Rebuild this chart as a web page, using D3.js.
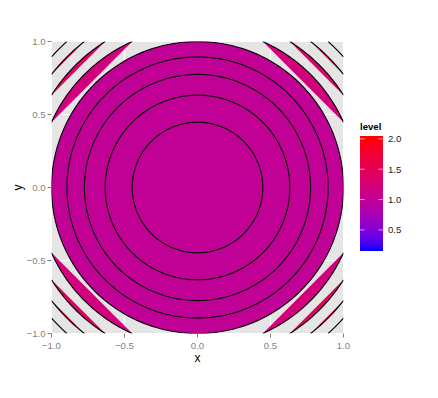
<!DOCTYPE html>
<html><head><meta charset="utf-8">
<script src="https://cdn.jsdelivr.net/npm/d3@7"></script>
<style>body{margin:0;background:#fff}svg{display:block;font-family:"Liberation Sans",Arial,sans-serif}</style>
</head><body><svg id="c" width="438" height="398"></svg>
<script>
// contour levels of z = x^2 + y^2
const levels = [0.2, 0.4, 0.6, 0.8, 1.0, 1.2, 1.4, 1.6, 1.8];
const xTicks = [-1, -0.5, 0, 0.5, 1];
const yTicks = [-1, -0.5, 0, 0.5, 1];
const minorTicks = [-0.75, -0.25, 0.25, 0.75];
const legendTicks = [0.5, 1.0, 1.5, 2.0];
const levelLimits = [0.2, 2.0];

// Lab (D65) interpolation, as in R's colour ramps
function toLab(hex) {
  const c = d3.rgb(hex);
  const lin = v => { v /= 255; return v <= 0.04045 ? v / 12.92 : Math.pow((v + 0.055) / 1.055, 2.4); };
  const r = lin(c.r), g = lin(c.g), b = lin(c.b);
  const X = (0.4124 * r + 0.3576 * g + 0.1805 * b) / 0.95047;
  const Y = (0.2126 * r + 0.7152 * g + 0.0722 * b);
  const Z = (0.0193 * r + 0.1192 * g + 0.9505 * b) / 1.08883;
  const f = t => t > 0.008856 ? Math.cbrt(t) : 7.787 * t + 16 / 116;
  const fx = f(X), fy = f(Y), fz = f(Z);
  return [116 * fy - 16, 500 * (fx - fy), 200 * (fy - fz)];
}
function fromLab([L, a, bb]) {
  const fy = (L + 16) / 116, fx = fy + a / 500, fz = fy - bb / 200;
  const inv = t => t * t * t > 0.008856 ? t * t * t : (t - 16 / 116) / 7.787;
  const X = inv(fx) * 0.95047, Y = inv(fy), Z = inv(fz) * 1.08883;
  let r = 3.2406 * X - 1.5372 * Y - 0.4986 * Z;
  let g = -0.9689 * X + 1.8758 * Y + 0.0415 * Z;
  let b = 0.0557 * X - 0.2040 * Y + 1.0570 * Z;
  const gam = v => { v = Math.max(0, Math.min(1, v)); return 255 * (v <= 0.0031308 ? 12.92 * v : 1.055 * Math.pow(v, 1 / 2.4) - 0.055); };
  return d3.rgb(gam(r), gam(g), gam(b)).formatHex();
}
const labLo = toLab("#0000FF"), labHi = toLab("#FF0000");
const tScale = d3.scaleLinear().domain(levelLimits).range([0, 1]).clamp(true);
const col = v => { const t = tScale(v); return fromLab(labLo.map((d, i) => d + (labHi[i] - d) * t)); };

const svg = d3.select("#c");
const P = {l: 51.5, r: 343.5, t: 41.5, b: 333.5};
const x = d3.scaleLinear().domain([-1, 1]).range([P.l, P.r]);
const y = d3.scaleLinear().domain([-1, 1]).range([P.b, P.t]);

svg.append("rect").attr("x", P.l).attr("y", P.t).attr("width", P.r - P.l).attr("height", P.b - P.t).attr("fill", "#E5E5E5");
const g = svg.append("g");
minorTicks.forEach(v => {
  g.append("line").attr("x1", x(v)).attr("x2", x(v)).attr("y1", P.t).attr("y2", P.b).attr("stroke", "#F2F2F2").attr("stroke-width", 0.5);
  g.append("line").attr("y1", y(v)).attr("y2", y(v)).attr("x1", P.l).attr("x2", P.r).attr("stroke", "#F2F2F2").attr("stroke-width", 0.5);
});
xTicks.forEach(v => g.append("line").attr("x1", x(v)).attr("x2", x(v)).attr("y1", P.t).attr("y2", P.b).attr("stroke", "#fff").attr("stroke-width", 1));
yTicks.forEach(v => g.append("line").attr("y1", y(v)).attr("y2", y(v)).attr("x1", P.l).attr("x2", P.r).attr("stroke", "#fff").attr("stroke-width", 1));

svg.append("clipPath").attr("id", "clip").append("rect").attr("x", P.l).attr("y", P.t).attr("width", P.r - P.l).attr("height", P.b - P.t);
const plot = svg.append("g").attr("clip-path", "url(#clip)");

// build contour pieces for each level
function pieces(L) {
  const r = Math.sqrt(L);
  const out = [];
  if (r <= 1) {
    const pts = d3.range(0, 361, 2).map(a => [r * Math.cos(a * Math.PI / 180), r * Math.sin(a * Math.PI / 180)]);
    out.push({pts, closed: true});
  } else {
    const a0 = Math.acos(1 / r), a1 = Math.asin(1 / r);
    [0, 1, 2, 3].forEach(q => {
      const base = q * Math.PI / 2;
      const pts = d3.range(0, 41).map(i => {
        const a = base + a0 + (a1 - a0) * i / 40;
        return [r * Math.cos(a), r * Math.sin(a)];
      });
      out.push({pts, closed: false});
    });
  }
  return out;
}
const line = d3.line().x(d => x(d[0])).y(d => y(d[1]));
const data = levels.flatMap(L => pieces(L).map(p => ({L, ...p})));
plot.selectAll("path.f").data(data).join("path").attr("class", "f")
  .attr("d", d => line(d.pts) + "Z").attr("fill", d => col(d.L)).attr("stroke", "none");
plot.selectAll("path.l").data(data).join("path").attr("class", "l")
  .attr("d", d => line(d.pts) + (d.closed ? "Z" : "")).attr("fill", "none").attr("stroke", "#000").attr("stroke-width", 1.1);

// axes
const grey = "#7F7F7F";
xTicks.forEach(v => {
  svg.append("line").attr("x1", x(v)).attr("x2", x(v)).attr("y1", P.b).attr("y2", P.b + 4).attr("stroke", grey);
  svg.append("text").attr("x", x(v)).attr("y", P.b + 15).attr("text-anchor", "middle").attr("font-size", 9.6).attr("fill", grey).text(d3.format(".1f")(v));
});
yTicks.forEach(v => {
  svg.append("line").attr("x1", P.l - 4).attr("x2", P.l).attr("y1", y(v)).attr("y2", y(v)).attr("stroke", grey);
  svg.append("text").attr("x", P.l - 6).attr("y", y(v) + 3.5).attr("text-anchor", "end").attr("font-size", 9.6).attr("fill", grey).text(d3.format(".1f")(v));
});
svg.append("text").attr("x", (P.l + P.r) / 2).attr("y", 362).attr("text-anchor", "middle").attr("font-size", 12).text("x");
svg.append("text").attr("transform", `translate(22,${(P.t + P.b) / 2}) rotate(-90)`).attr("text-anchor", "middle").attr("font-size", 12).text("y");

// legend
const LB = {x: 360, y: 136, w: 23, h: 115};
svg.append("text").attr("x", LB.x).attr("y", 130).attr("font-size", 9.6).attr("font-weight", "bold").text("level");
const defs = svg.append("defs");
const grad = defs.append("linearGradient").attr("id", "lg").attr("x1", 0).attr("y1", 1).attr("x2", 0).attr("y2", 0);
const ly = d3.scaleLinear().domain(levelLimits).range([LB.y + LB.h - LB.h * 0.025, LB.y + LB.h * 0.025]);
d3.range(0, 21).forEach(i => {
  const t = i / 20;
  const v = levelLimits[0] + (levelLimits[1] - levelLimits[0]) * (t - 0.025) / 0.95;
  grad.append("stop").attr("offset", t).attr("stop-color", col(v));
});
svg.append("rect").attr("x", LB.x).attr("y", LB.y).attr("width", LB.w).attr("height", LB.h).attr("fill", "url(#lg)");
legendTicks.forEach(v => {
  svg.append("line").attr("x1", LB.x).attr("x2", LB.x + 4.6).attr("y1", ly(v)).attr("y2", ly(v)).attr("stroke", "#fff").attr("stroke-opacity", 0.6);
  svg.append("line").attr("x1", LB.x + LB.w - 4.6).attr("x2", LB.x + LB.w).attr("y1", ly(v)).attr("y2", ly(v)).attr("stroke", "#fff").attr("stroke-opacity", 0.6);
  svg.append("text").attr("x", LB.x + LB.w + 5).attr("y", ly(v) + 3.5).attr("font-size", 9.6).attr("fill", "#1a1a1a").text(d3.format(".1f")(v));
});
</script></body></html>
